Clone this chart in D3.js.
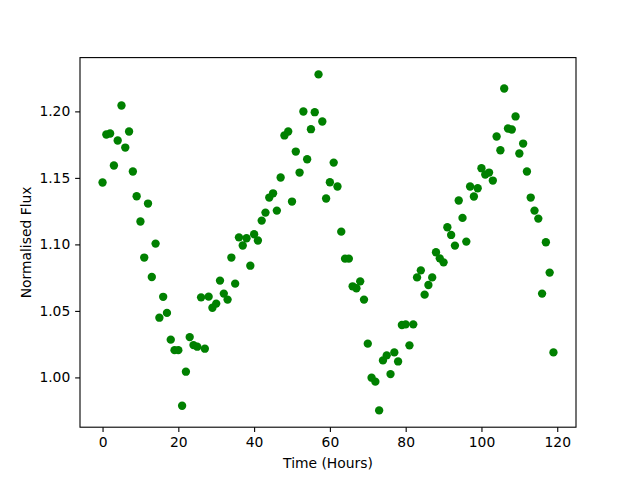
<!DOCTYPE html>
<html>
<head>
<meta charset="utf-8">
<script src="https://cdn.jsdelivr.net/npm/d3@7"></script>
<style>
  body { margin: 0; background: #fff; }
  text { font-family: "DejaVu Sans", sans-serif; }
</style>
</head>
<body>
<div id="chart"></div>
<script>
const hours = [
  0, 1, 2, 3, 4, 5, 6, 7, 8, 9, 10, 11, 12, 13, 14, 15, 16, 17, 18, 19,
  20, 21, 22, 23, 24, 25, 26, 27, 28, 29, 30, 31, 32, 33, 34, 35, 36, 37, 38, 39,
  40, 41, 42, 43, 44, 45, 46, 47, 48, 49, 50, 51, 52, 53, 54, 55, 56, 57, 58, 59,
  60, 61, 62, 63, 64, 65, 66, 67, 68, 69, 70, 71, 72, 73, 74, 75, 76, 77, 78, 79,
  80, 81, 82, 83, 84, 85, 86, 87, 88, 89, 90, 91, 92, 93, 94, 95, 96, 97, 98, 99,
  100, 101, 102, 103, 104, 105, 106, 107, 108, 109, 110, 111, 112, 113, 114, 115, 116, 117, 118, 119
];

const flux = [
  1.1465, 1.1826, 1.1834, 1.1593, 1.1781, 1.2044, 1.1728, 1.1849, 1.1548, 1.1362,
  1.1172, 1.0901, 1.1307, 1.0755, 1.1006, 1.0449, 1.0606, 1.0485, 1.0284, 1.0205,
  1.0205, 0.9787, 1.0043, 1.0303, 1.0243, 1.0231, 1.0602, 1.0216, 1.0607, 1.0524,
  1.0555, 1.0728, 1.0630, 1.0585, 1.0901, 1.0705, 1.1053, 1.0992, 1.1046, 1.0840,
  1.1076, 1.1029, 1.1179, 1.1239, 1.1352, 1.1384, 1.1254, 1.1503, 1.1819, 1.1849,
  1.1322, 1.1698, 1.1540, 1.1999, 1.1640, 1.1866, 1.1994, 1.2278, 1.1924, 1.1345,
  1.1467, 1.1615, 1.1435, 1.1096, 1.0893, 1.0893, 1.0685, 1.0670, 1.0722, 1.0585,
  1.0254, 0.9998, 0.9968, 0.9752, 1.0128, 1.0166, 1.0025, 1.0188, 1.0120, 1.0394,
  1.0399, 1.0241, 1.0399, 1.0752, 1.0805, 1.0622, 1.0695, 1.0752, 1.0941, 1.0895,
  1.0865, 1.1129, 1.1071, 1.0991, 1.1330, 1.1199, 1.1021, 1.1435, 1.1360, 1.1422,
  1.1573, 1.1525, 1.1540, 1.1480, 1.1811, 1.1708, 1.2172, 1.1871, 1.1864, 1.1962,
  1.1683, 1.1758, 1.1548, 1.1352, 1.1254, 1.1194, 1.0630, 1.1016, 1.0788, 1.0188
];

const xTicks = [0, 20, 40, 60, 80, 100, 120];
const yTicks = [1.00, 1.05, 1.10, 1.15, 1.20];

const width = 640, height = 480;
const margin = {top: 57.6, right: 64, bottom: 52.8, left: 80};
const innerW = width - margin.left - margin.right;
const innerH = height - margin.top - margin.bottom;
const fontSize = 13.89;
const tickLen = 4.86;

const svg = d3.select('#chart')
  .append('svg')
  .attr('width', width)
  .attr('height', height);

const g = svg.append('g')
  .attr('transform', 'translate(' + margin.left + ',' + margin.top + ')');

// matplotlib-style 5% padding around the data
function padded(values) {
  const [lo, hi] = d3.extent(values);
  const pad = (hi - lo) * 0.05;
  return [lo - pad, hi + pad];
}

const x = d3.scaleLinear().domain(padded(hours)).range([0, innerW]);
const y = d3.scaleLinear().domain(padded(flux)).range([innerH, 0]);

const points = hours.map((h, i) => ({hour: h, flux: flux[i]}));

g.selectAll('.dot')
  .data(points)
  .enter().append('circle')
  .attr('class', 'dot')
  .attr('cx', d => x(d.hour))
  .attr('cy', d => y(d.flux))
  .attr('r', 4.17)
  .style('fill', '#008000');

const xAxis = g.append('g')
  .attr('transform', 'translate(0,' + innerH + ')')
  .call(d3.axisBottom(x).tickValues(xTicks).tickSizeOuter(0)
    .tickSize(tickLen).tickPadding(tickLen));

const yAxis = g.append('g')
  .call(d3.axisLeft(y).tickValues(yTicks).tickFormat(d3.format('.2f'))
    .tickSizeOuter(0).tickSize(tickLen).tickPadding(tickLen));

[xAxis, yAxis].forEach(ax => {
  ax.select('.domain').remove();
  ax.selectAll('line').attr('stroke', '#000').attr('stroke-width', 1.1);
  ax.selectAll('text')
    .attr('fill', '#000')
    .style('font-family', '"DejaVu Sans", sans-serif')
    .style('font-size', fontSize + 'px');
});

g.append('rect')
  .attr('width', innerW)
  .attr('height', innerH)
  .attr('fill', 'none')
  .attr('stroke', '#000')
  .attr('stroke-width', 1.1);

svg.append('text')
  .attr('x', margin.left + innerW / 2)
  .attr('y', 468)
  .attr('text-anchor', 'middle')
  .style('font-size', fontSize + 'px')
  .text('Time (Hours)');

svg.append('text')
  .attr('transform', 'translate(31,' + (margin.top + innerH / 2) + ') rotate(-90)')
  .attr('text-anchor', 'middle')
  .style('font-size', fontSize + 'px')
  .text('Normalised Flux');
</script>
</body>
</html>
